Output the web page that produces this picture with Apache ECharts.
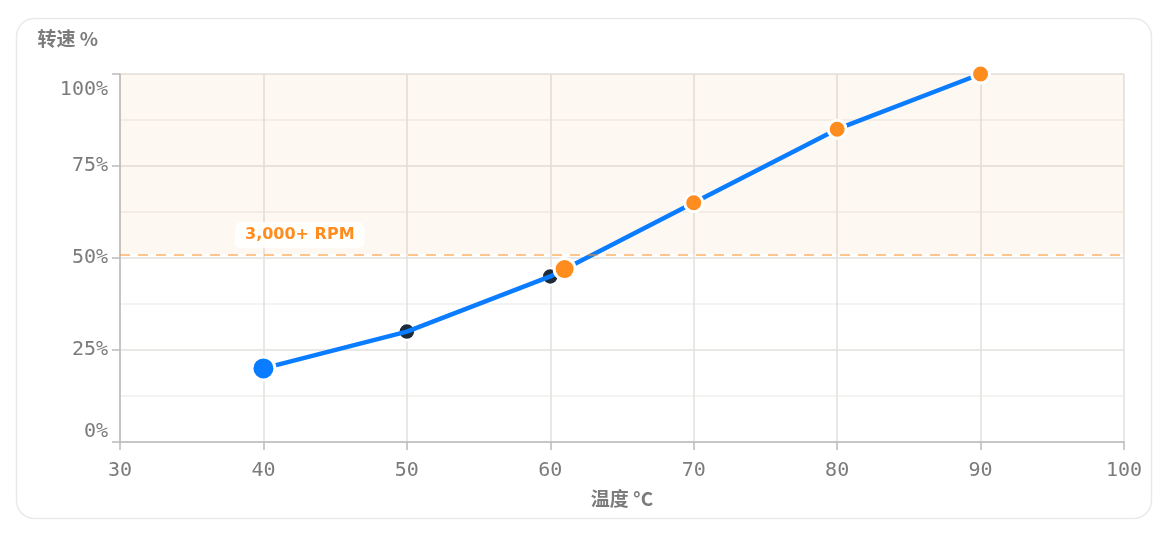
<!DOCTYPE html>
<html>
<head>
<meta charset="utf-8">
<script src="https://cdn.jsdelivr.net/npm/echarts@6/dist/echarts.min.js"></script>
<style>
  html, body { margin: 0; padding: 0; background: #ffffff; }
  #chart { width: 1164px; height: 554px; }
</style>
</head>
<body>
<div id="chart"></div>
<script>
// ---- data ----
const temperatures = [40, 50, 60, 70, 80, 90];      // °C
const fanSpeeds    = [20, 30, 45, 65, 85, 100];     // %
const crossingPoint = [61, 47];                     // where curve enters 3,000+ RPM zone
const thresholdSpeed = 51;                          // % ≈ 3,000 RPM
const thresholdLabel = '3,000+ RPM';
const xMin = 30, xMax = 100, xStep = 10;
const yMin = 0, yMax = 100, yStep = 25;
const xName = '温度 °C';
const yName = '转速 %';

// ---- colours ----
const BLUE = '#0a7cff';
const ORANGE = '#ff8c1f';
const DARK = '#1e2b3b';
const GRID_MAJOR = '#e3e0dd';
const GRID_MINOR = '#f1efed';
const AXIS = '#bababa';
const TEXT = '#7b7b7b';
const MONO = '"DejaVu Sans Mono", "Liberation Mono", monospace';
const SANS = '"Noto Sans CJK SC", "Noto Sans", sans-serif';

const curve = temperatures.map((t, i) => [t, fanSpeeds[i]]);
const startPoint = [curve[0]];
const lowPoints = curve.slice(1).filter(p => p[1] < thresholdSpeed);
const highPoints = [crossingPoint].concat(curve.slice(1).filter(p => p[1] >= thresholdSpeed));

const chart = echarts.init(document.getElementById('chart'), null, { renderer: 'canvas' });

const labelFont = { fontFamily: MONO, fontSize: 20, color: TEXT };

chart.setOption({
  animation: false,
  backgroundColor: '#ffffff',
  graphic: [{
    type: 'rect',
    z: -10,
    silent: true,
    shape: { x: 16.5, y: 18.5, width: 1135, height: 500, r: 18 },
    style: { fill: '#ffffff', stroke: '#e9e9e9', lineWidth: 1.5 }
  }],
  grid: { left: 120, right: 40, top: 74, bottom: 112, containLabel: false },
  xAxis: {
    type: 'value',
    min: xMin, max: xMax, interval: xStep,
    name: xName,
    nameLocation: 'middle',
    nameGap: 47,
    nameTextStyle: { fontFamily: SANS, fontWeight: 'bold', fontSize: 19, color: TEXT },
    axisLine: { show: true, lineStyle: { color: AXIS, width: 1.5 } },
    axisTick: { show: true, length: 8, lineStyle: { color: AXIS, width: 1.5 } },
    axisLabel: Object.assign({ margin: 19 }, labelFont),
    splitLine: { show: true, lineStyle: { color: GRID_MAJOR, width: 1.5 } }
  },
  yAxis: {
    type: 'value',
    min: yMin, max: yMax, interval: yStep,
    name: yName,
    nameLocation: 'end',
    nameGap: 26,
    nameTextStyle: { fontFamily: SANS, fontWeight: 'bold', fontSize: 19, color: TEXT, align: 'right', padding: [0, 22, 0, 0] },
    axisLine: { show: true, lineStyle: { color: AXIS, width: 1.5 } },
    axisTick: { show: true, length: 8, lineStyle: { color: AXIS, width: 1.5 } },
    axisLabel: Object.assign({
      margin: 12,
      formatter: function (v) { return v === yMax ? '{top|' + v + '%}' : v + '%'; },
      rich: { top: Object.assign({ padding: [6, 0, 0, 0] }, labelFont) },
      verticalAlignMinLabel: 'bottom',
      verticalAlignMaxLabel: 'top'
    }, labelFont),
    splitLine: { show: true, lineStyle: { color: GRID_MAJOR, width: 1.5 } },
    minorTick: { show: false, splitNumber: 2 },
    minorSplitLine: { show: true, lineStyle: { color: GRID_MINOR, width: 1.5 } }
  },
  series: [
    {
      type: 'scatter',
      name: 'below',
      z: 1,
      data: lowPoints,
      symbolSize: 17,
      itemStyle: { color: DARK, borderColor: '#ffffff', borderWidth: 2.5, opacity: 1 }
    },
    {
      type: 'line',
      name: 'curve',
      z: 2,
      data: curve,
      showSymbol: false,
      symbol: 'none',
      lineStyle: { color: BLUE, width: 4.5 },
      markArea: {
        silent: true,
        itemStyle: { color: 'rgba(245,165,80,0.075)' },
        data: [[{ yAxis: thresholdSpeed }, { yAxis: yMax }]]
      },
      markLine: {
        silent: true,
        symbol: 'none',
        lineStyle: { color: 'rgba(255,140,30,0.5)', type: [10, 8], width: 2 },
        label: {
          show: true,
          position: 'insideStartTop',
          distance: [115, 6],
          formatter: thresholdLabel,
          color: ORANGE,
          fontFamily: '"DejaVu Sans", "Noto Sans", sans-serif',
          fontWeight: 'bold',
          fontSize: 16,
          backgroundColor: 'rgba(255,255,255,0.92)',
          borderRadius: 6,
          padding: [5, 10, 5, 10]
        },
        data: [{ yAxis: thresholdSpeed }]
      }
    },
    {
      type: 'scatter',
      name: 'above',
      z: 3,
      data: highPoints,
      symbolSize: function (v) { return v[0] === crossingPoint[0] ? 21 : 18; },
      itemStyle: { color: ORANGE, borderColor: '#ffffff', borderWidth: 3, opacity: 1 }
    },
    {
      type: 'scatter',
      name: 'start',
      z: 4,
      data: startPoint,
      symbolSize: 23,
      itemStyle: { color: BLUE, borderColor: '#ffffff', borderWidth: 3, opacity: 1 }
    }
  ]
});
</script>
</body>
</html>
